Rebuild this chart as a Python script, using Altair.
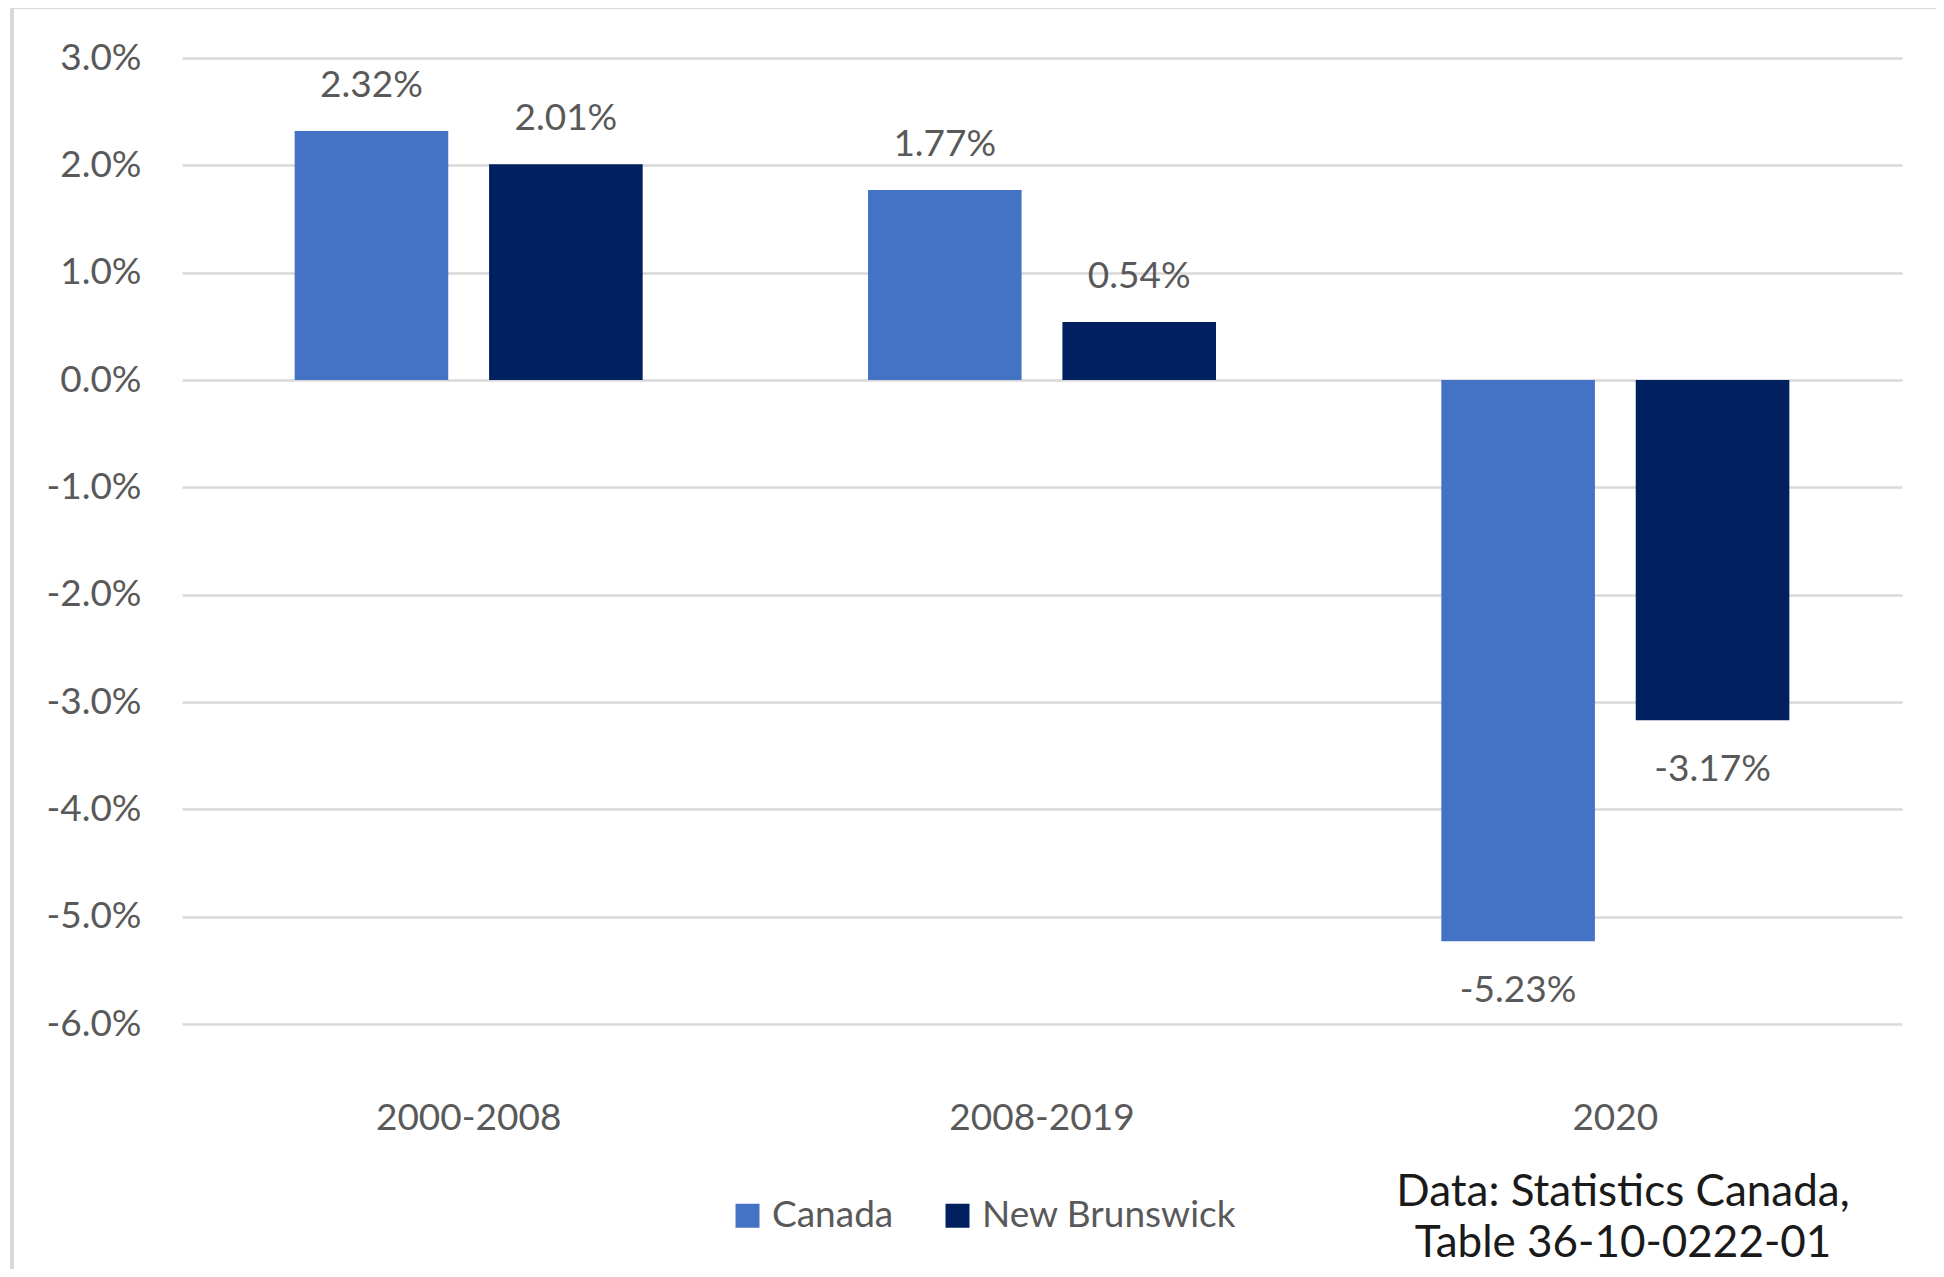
import altair as alt
import pandas as pd

periods = ["2000-2008", "2008-2019", "2020"]
series = ["Canada", "New Brunswick"]
canada = [2.32, 1.77, -5.23]
new_brunswick = [2.01, 0.54, -3.17]
colors = ["#4472C4", "#002060"]
y_ticks = [-6, -5, -4, -3, -2, -1, 0, 1, 2, 3]
source_text = "Data: Statistics Canada,\nTable 36-10-0222-01"

rows = []
for p, c, n in zip(periods, canada, new_brunswick):
    rows.append({"period": p, "series": series[0], "value": c})
    rows.append({"period": p, "series": series[1], "value": n})
df = pd.DataFrame(rows)
df["label"] = df["value"].map(lambda v: f"{v:.2f}%")

FONT = "Lato"
GRAY = "#595959"

x_enc = alt.X(
    "period:N",
    sort=periods,
    title=None,
    scale=alt.Scale(paddingInner=0.393, paddingOuter=0.1965),
    axis=alt.Axis(
        labelAngle=0,
        labelFont=FONT,
        labelFontSize=37,
        labelColor=GRAY,
        labelPadding=76,
        labelLimit=0,
        ticks=False,
        domain=False,
        grid=False,
    ),
)
xoff_enc = alt.XOffset(
    "series:N", sort=series, scale=alt.Scale(paddingInner=0.21, paddingOuter=0)
)
y_enc = alt.Y(
    "value:Q",
    title=None,
    scale=alt.Scale(domain=[-6, 3], nice=False, zero=True),
    axis=alt.Axis(
        values=y_ticks,
        labelExpr="(datum.value < 0 ? '-' : '') + format(abs(datum.value), '.1f') + '%'",
        labelFont=FONT,
        labelFontSize=37,
        labelColor=GRAY,
        labelPadding=41,
        labelLimit=0,
        ticks=False,
        domain=False,
        grid=True,
        gridColor="#d9d9d9",
        gridWidth=2.5,
    ),
)
color_enc = alt.Color(
    "series:N",
    sort=series,
    scale=alt.Scale(domain=series, range=colors),
    legend=alt.Legend(
        orient="none",
        legendX=547,
        legendY=1139,
        direction="horizontal",
        title=None,
        symbolType="square",
        symbolSize=576,
        symbolStrokeWidth=0,
        labelFont=FONT,
        labelFontSize=37,
        labelColor=GRAY,
        labelOffset=6,
        labelLimit=0,
        columnPadding=45,
        padding=0,
    ),
)

base = alt.Chart(df)

bars = base.mark_bar().encode(x=x_enc, xOffset=xoff_enc, y=y_enc, color=color_enc)

labels_pos = (
    base.transform_filter("datum.value >= 0")
    .mark_text(font=FONT, fontSize=37, color=GRAY, baseline="alphabetic", dy=-34)
    .encode(x=x_enc, xOffset=xoff_enc, y=y_enc, text="label:N")
)
labels_neg = (
    base.transform_filter("datum.value < 0")
    .mark_text(font=FONT, fontSize=37, color=GRAY, baseline="alphabetic", dy=61)
    .encode(x=x_enc, xOffset=xoff_enc, y=y_enc, text="label:N")
)

deco = alt.Chart(pd.DataFrame({"t": [source_text]}))
border_left = deco.mark_rule(color="#d9d9d9", strokeWidth=4).encode(
    x=alt.value(-170), y=alt.value(-53), y2=alt.value(1215)
)
border_top = deco.mark_rule(color="#d9d9d9", strokeWidth=4).encode(
    x=alt.value(-172), x2=alt.value(1762), y=alt.value(-51)
)
source = deco.mark_text(
    font=FONT,
    fontSize=44,
    color="#1a1a1a",
    align="center",
    baseline="alphabetic",
    lineBreak="\n",
    lineHeight=51,
).encode(x=alt.value(1441), y=alt.value(1148), text="t:N")

chart = (
    alt.layer(border_left, border_top, bars, labels_pos, labels_neg, source)
    .properties(
        width=1720,
        height=966,
        autosize=alt.AutoSizeParams(type="none"),
        padding={"left": 174, "top": 50, "right": 34, "bottom": 245},
        background="white",
    )
    .configure_view(stroke=None)
)

chart.save("out.html", embed_options={"renderer": "svg", "actions": False})
